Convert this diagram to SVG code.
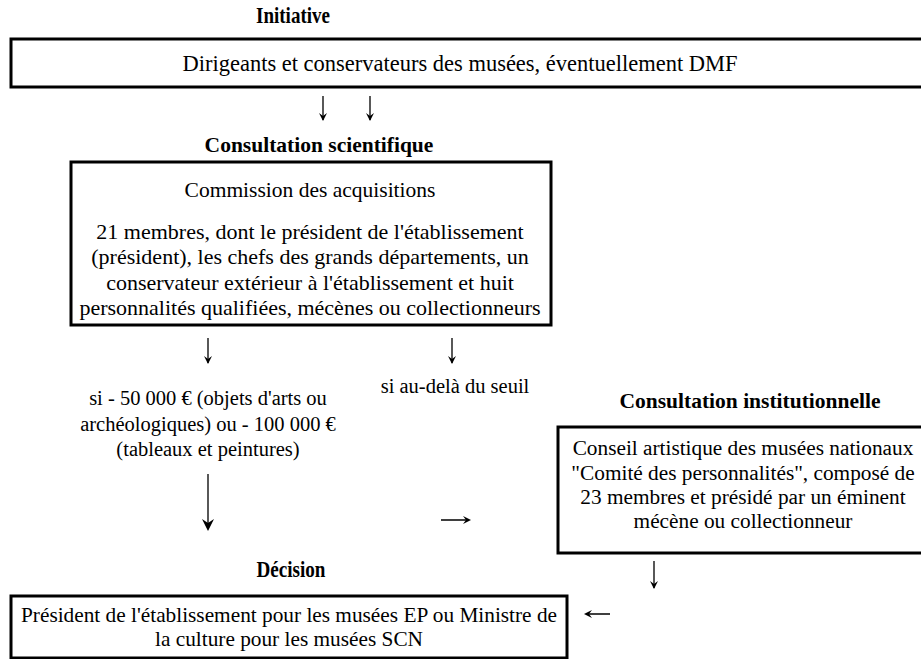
<svg xmlns="http://www.w3.org/2000/svg" width="921" height="659" viewBox="0 0 921 659">
<style>
text{font-family:"Liberation Serif","Times New Roman",serif;font-size:20px;fill:#000;text-anchor:middle}
.b{font-weight:bold;font-size:21.5px}
.c{font-size:22px}
.k{font-size:21.3px}
.s{font-size:20.5px}
.box{fill:#fff;stroke:#000;stroke-width:3}
.ln{stroke:#000;stroke-width:1.3;fill:none}
.hd{fill:#000;stroke:none}
</style>
<rect width="921" height="659" fill="#fff"/>
<g id="initiative">
<text class="b" x="293" y="23" style="font-size:23px" textLength="74" lengthAdjust="spacingAndGlyphs">Initiative</text>
<rect class="box" x="11" y="39" width="920" height="48"/>
<text x="460" y="71" style="font-size:24px" textLength="555" lengthAdjust="spacingAndGlyphs">Dirigeants et conservateurs des musées, éventuellement DMF</text>
</g>
<g id="commission">
<text class="b" x="319" y="152">Consultation scientifique</text>
<rect class="box" x="71" y="162" width="480" height="163"/>
<text class="c" x="310" y="197" style="font-size:21.5px">Commission des acquisitions</text>
<text class="c" x="310" y="239">21 membres, dont le président de l'établissement</text>
<text class="c" x="310" y="264">(président), les chefs des grands départements, un</text>
<text class="c" x="310" y="290">conservateur extérieur à l'établissement et huit</text>
<text class="c" x="310" y="315">personnalités qualifiées, mécènes ou collectionneurs</text>
</g>
<g id="seuil-bas">
<text class="s" x="208" y="405">si - 50 000 € (objets d'arts ou</text>
<text class="s" x="208" y="431">archéologiques) ou - 100 000 €</text>
<text class="s" x="208" y="456">(tableaux et peintures)</text>
</g>
<g id="seuil-haut">
<text class="s" x="455" y="393">si au-delà du seuil</text>
</g>
<g id="conseil">
<text class="b" x="750" y="408">Consultation institutionnelle</text>
<rect class="box" x="558" y="427" width="380" height="126"/>
<text class="k" x="743" y="455">Conseil artistique des musées nationaux</text>
<text class="k" x="743" y="480">"Comité des personnalités", composé de</text>
<text class="k" x="743" y="504">23 membres et présidé par un éminent</text>
<text class="k" x="743" y="528">mécène ou collectionneur</text>
</g>
<g id="decision">
<text class="b" x="291" y="577" style="font-size:23px" textLength="69" lengthAdjust="spacingAndGlyphs">Décision</text>
<rect class="box" x="11" y="596" width="556" height="62"/>
<text x="289" y="622" style="font-size:21px" textLength="536" lengthAdjust="spacingAndGlyphs">Président de l'établissement pour les musées EP ou Ministre de</text>
<text x="289" y="646" style="font-size:21px" textLength="268" lengthAdjust="spacingAndGlyphs">la culture pour les musées SCN</text>
</g>
<g id="connectors">
<path class="ln" d="M323 96V120M370 96V120M208 338V363M452 338V363M208 474V529M654 561V588M441 520H469M610 614H586"/>
<path class="hd" d="M323 121l-4-8 4 3 4-3zM370 121l-4-8 4 3 4-3zM208 364l-4-8 4 3 4-3zM452 364l-4-8 4 3 4-3zM208 531l-6-12 6 4 6-4zM654 589l-4-8 4 3 4-3zM471 520l-8-4 3 4-3 4zM584 614l8-4-3 4 3 4z"/>
</g>
</svg>
